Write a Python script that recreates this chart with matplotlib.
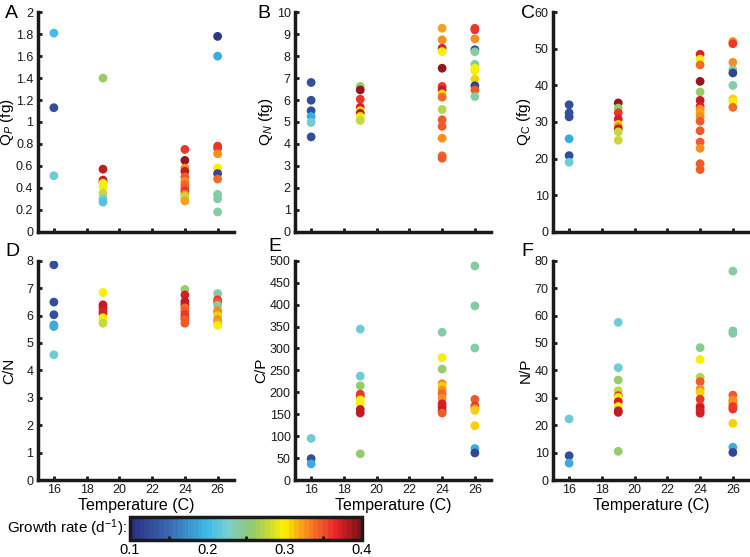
import matplotlib
matplotlib.use("Agg")
import matplotlib.pyplot as plt
from matplotlib.colors import LinearSegmentedColormap, Normalize
import matplotlib.cm as cm

plt.rcParams['font.family'] = ['Liberation Sans', 'DejaVu Sans']
plt.rcParams['mathtext.fontset'] = 'custom'
plt.rcParams['mathtext.rm'] = 'Liberation Sans'
plt.rcParams['mathtext.it'] = 'Liberation Sans:italic'

# ---------------- data ----------------
# Panel A: Q_P (fg)
qp_temp = [16, 16, 16,
           19, 19, 19, 19, 19, 19, 19, 19, 19,
           24, 24, 24, 24, 24, 24, 24, 24, 24, 24, 24, 24, 24,
           26, 26, 26, 26, 26, 26, 26, 26, 26, 26, 26, 26]
qp_val = [1.81, 1.13, 0.51,
          1.40, 0.57, 0.47, 0.45, 0.44, 0.41, 0.35, 0.30, 0.27,
          0.75, 0.65, 0.58, 0.55, 0.50, 0.46, 0.43, 0.40, 0.37, 0.34, 0.32, 0.30, 0.28,
          1.78, 1.60, 0.78, 0.76, 0.71, 0.58, 0.57, 0.53, 0.48, 0.34, 0.30, 0.18]
qp_mu = [0.20, 0.13, 0.22,
         0.26, 0.38, 0.38, 0.36, 0.30, 0.30, 0.28, 0.22, 0.21,
         0.36, 0.39, 0.33, 0.38, 0.35, 0.33, 0.34, 0.35, 0.36, 0.33, 0.28, 0.28, 0.32,
         0.11, 0.19, 0.36, 0.36, 0.33, 0.30, 0.30, 0.12, 0.34, 0.24, 0.24, 0.24]

# Panel B: Q_N (fg)
qn_temp = [16] * 6 + [19] * 8 + [24] * 15 + [26] * 12
qn_val = [6.80, 5.99, 5.51, 5.25, 4.98, 4.32,
          6.62, 6.46, 6.04, 5.67, 5.51, 5.40, 5.25, 5.07,
          9.27, 8.74, 8.36, 8.21, 7.45, 6.62, 6.46, 6.28, 6.13, 5.57, 5.10, 4.80, 4.26, 3.46, 3.35,
          9.27, 9.20, 8.79, 8.29, 8.20, 7.63, 7.45, 7.34, 6.95, 6.65, 6.46, 6.16]
qn_mu = [0.13, 0.13, 0.13, 0.19, 0.22, 0.13,
         0.26, 0.39, 0.36, 0.37, 0.30, 0.38, 0.30, 0.28,
         0.32, 0.33, 0.37, 0.30, 0.39, 0.36, 0.38, 0.31, 0.34, 0.27, 0.35, 0.35, 0.33, 0.34, 0.35,
         0.36, 0.36, 0.33, 0.12, 0.24, 0.24, 0.30, 0.30, 0.31, 0.12, 0.35, 0.24]

# Panel C: Q_C (fg)
qc_temp = [16] * 6 + [19] * 9 + [24] * 16 + [26] * 9
qc_val = [34.7, 32.5, 31.4, 25.4, 20.8, 19.0,
          35.2, 33.8, 32.5, 30.8, 29.3, 28.8, 28.1, 27.3, 25.0,
          48.5, 47.2, 45.6, 41.1, 38.2, 35.9, 34.3, 33.5, 32.5, 31.5, 30.2, 27.6, 24.5, 22.8, 18.6, 17.0,
          52.0, 51.4, 46.3, 44.3, 43.4, 40.0, 36.3, 35.6, 34.0]
qc_mu = [0.13, 0.13, 0.13, 0.19, 0.13, 0.22,
         0.39, 0.26, 0.36, 0.37, 0.30, 0.33, 0.38, 0.28, 0.28,
         0.37, 0.30, 0.34, 0.39, 0.26, 0.38, 0.37, 0.33, 0.32, 0.33, 0.35, 0.35, 0.35, 0.33, 0.35, 0.35,
         0.33, 0.36, 0.33, 0.24, 0.12, 0.24, 0.31, 0.30, 0.34]

# Panel D: C/N
cn_temp = [16] * 6 + [19] * 8 + [24] * 10 + [26] * 10
cn_val = [7.85, 6.49, 6.03, 5.66, 5.60, 4.57,
          6.84, 6.39, 6.28, 6.16, 6.06, 5.92, 5.82, 5.72,
          6.95, 6.75, 6.51, 6.39, 6.28, 6.16, 6.03, 5.92, 5.85, 5.72,
          6.80, 6.57, 6.49, 6.37, 6.18, 6.12, 6.00, 5.85, 5.76, 5.64]
cn_mu = [0.13, 0.13, 0.13, 0.19, 0.19, 0.22,
         0.30, 0.38, 0.38, 0.37, 0.37, 0.30, 0.30, 0.28,
         0.26, 0.37, 0.38, 0.38, 0.34, 0.35, 0.36, 0.36, 0.35, 0.35,
         0.24, 0.36, 0.35, 0.24, 0.33, 0.33, 0.31, 0.33, 0.32, 0.30]

# Panel E: C/P
cp_temp = [16] * 3 + [19] * 10 + [24] * 12 + [26] * 10
cp_val = [95, 49, 37,
          344, 237, 215, 196, 191, 183, 174, 161, 153, 60,
          337, 279, 253, 220, 214, 205, 197, 186, 174, 167, 158, 153,
          488, 397, 301, 184, 169, 163, 159, 124, 72, 62]
cp_mu = [0.22, 0.13, 0.19,
         0.22, 0.22, 0.26, 0.36, 0.36, 0.30, 0.30, 0.38, 0.38, 0.26,
         0.24, 0.30, 0.26, 0.33, 0.31, 0.33, 0.34, 0.33, 0.37, 0.37, 0.38, 0.35,
         0.24, 0.24, 0.24, 0.35, 0.36, 0.33, 0.31, 0.31, 0.19, 0.12]

# Panel F: N/P
np_temp = [16] * 3 + [19] * 11 + [24] * 11 + [26] * 12
np_val = [22.3, 8.9, 6.2,
          57.5, 41.0, 36.5, 32.6, 30.8, 30.2, 28.6, 26.8, 25.3, 24.7, 10.5,
          48.3, 44.0, 37.5, 35.9, 33.2, 32.0, 29.5, 27.0, 26.2, 25.2, 24.4,
          76.2, 54.4, 53.5, 31.0, 29.2, 28.6, 27.8, 26.8, 25.9, 20.7, 12.0, 10.1]
np_mu = [0.22, 0.13, 0.19,
         0.22, 0.22, 0.26, 0.28, 0.36, 0.30, 0.37, 0.30, 0.38, 0.38, 0.26,
         0.25, 0.30, 0.27, 0.35, 0.33, 0.31, 0.36, 0.36, 0.38, 0.37, 0.37,
         0.24, 0.24, 0.24, 0.35, 0.33, 0.33, 0.33, 0.36, 0.36, 0.31, 0.19, 0.12]

x_ticks = [16, 18, 20, 22, 24, 26]
cbar_ticks = [0.1, 0.2, 0.3, 0.4]
cbar_minor = [0.15, 0.2, 0.25, 0.3, 0.35]

# ---------------- colormap ----------------
cmap_colors = [
    (0.00, '#2a3183'), (0.15, '#3a64ae'), (0.33, '#3cbbe9'), (0.42, '#7acfd0'),
    (0.52, '#8fc971'), (0.60, '#c8da3a'), (0.67, '#fff200'), (0.74, '#f9a51a'),
    (0.83, '#f0592a'), (0.90, '#e8202a'), (1.00, '#7d1517')]
cmap = LinearSegmentedColormap.from_list('growth', cmap_colors, N=48)
norm = Normalize(0.1, 0.4)

fig = plt.figure(figsize=(7.5, 5.57), dpi=100)
FW, FH = 750.0, 557.0

W = 0.262
lefts = [0.050, 0.393, 0.737]
top_b, bot_b, H = 0.584, 0.138, 0.394
letter_x = [[5, 257, 521], [5, 268, 521]]
letter_y = [[13, 13, 13], [251, 247, 251]]

panels = [
    ('A', qp_temp, qp_val, qp_mu, r'Q$_{\mathit{P}}$ (fg)', (0, 2), [0, 0.2, 0.4, 0.6, 0.8, 1, 1.2, 1.4, 1.6, 1.8, 2],
     ['0', '0.2', '0.4', '0.6', '0.8', '1', '1.2', '1.4', '1.6', '1.8', '2']),
    ('B', qn_temp, qn_val, qn_mu, r'Q$_{\mathit{N}}$ (fg)', (0, 10), list(range(0, 11)), None),
    ('C', qc_temp, qc_val, qc_mu, r'Q$_{\mathrm{C}}$ (fg)', (0, 60), list(range(0, 61, 10)), None),
    ('D', cn_temp, cn_val, cn_mu, 'C/N', (0, 8), list(range(0, 9)), None),
    ('E', cp_temp, cp_val, cp_mu, 'C/P', (0, 500), list(range(0, 501, 50)), None),
    ('F', np_temp, np_val, np_mu, 'N/P', (0, 80), list(range(0, 81, 10)), None),
]

for i, (letter, tx, vals, mu, ylab, ylim, yt, ytl) in enumerate(panels):
    row, col = divmod(i, 3)
    ax = fig.add_axes([lefts[col], top_b if row == 0 else bot_b, W, H])
    ax.scatter(tx, vals, c=mu, cmap=cmap, norm=norm, s=40, edgecolors='none', zorder=3)
    ax.set_xlim(15, 27)
    ax.set_ylim(*ylim)
    ax.set_xticks(x_ticks)
    ax.set_yticks(yt)
    if ytl is not None:
        ax.set_yticklabels(ytl)
    for s in ['top', 'right']:
        ax.spines[s].set_visible(False)
    for s in ['left', 'bottom']:
        ax.spines[s].set_linewidth(2.5)
        ax.spines[s].set_color('#1a1a1a')
    ax.tick_params(direction='in', length=3, width=2, labelsize=9, pad=3, colors='#1a1a1a')
    ax.set_ylabel(ylab, fontsize=11, labelpad=1)
    if col == 0:
        ax.yaxis.set_label_coords(-21.0 / (W * FW), 0.5)
    if row == 0:
        ax.set_xticklabels([])
    else:
        ax.set_xlabel('Temperature (C)', fontsize=11.5, labelpad=1)
    fig.text(letter_x[row][col] / FW, 1 - letter_y[row][col] / FH, letter,
             fontsize=14, ha='left', va='center')

# colorbar
cax = fig.add_axes([0.1733, 0.0305, 0.309, 0.0419])
cb = fig.colorbar(cm.ScalarMappable(norm=norm, cmap=cmap), cax=cax, orientation='horizontal')
cb.outline.set_linewidth(2.5)
cb.outline.set_edgecolor('#1a1a1a')
cb.set_ticks(cbar_ticks)
cb.set_ticklabels(['0.1', '0.2', '0.3', '0.4'])
cax.tick_params(axis='x', length=0, labelsize=10.5, pad=2)
cax.set_xticks(cbar_minor, minor=True)
cax.tick_params(axis='x', which='minor', direction='in', length=3, width=2, color='#1a1a1a')
fig.text(0.169, 0.052, 'Growth rate (d$^{-1}$):', ha='right', va='center', fontsize=11)

fig.savefig('out.png', dpi=100)
